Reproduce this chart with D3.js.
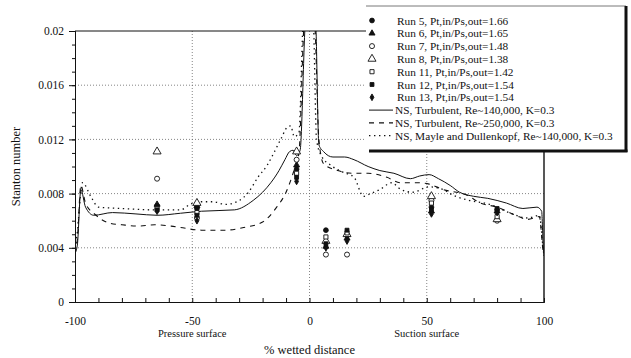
<!DOCTYPE html>
<html>
<head>
<meta charset="utf-8">
<script src="https://cdn.jsdelivr.net/npm/d3@7"></script>
<style>
  body { margin: 0; background: #fff; }
  svg { display: block; font-family: "Liberation Serif", "Times New Roman", serif; }
</style>
</head>
<body>
<svg id="chart" width="631" height="358"></svg>
<script>
// measured stations (% wetted distance)
const runX = [-65, -48, -5.5, 7, 16, 52, 80];

// Stanton number per run, one value per station
const run5 = [0.0071, 0.0069, 0.0098, 0.0053, 0.0049, 0.0070, 0.0068];
const run6 = [0.0072, 0.0071, 0.0101, 0.0041, 0.0047, 0.0067, 0.0067];
const run7 = [0.0091, 0.0062, 0.0105, 0.0035, 0.0035, 0.0075, 0.0060];
const run8 = [0.0111, 0.0073, 0.0111, 0.0045, 0.0050, 0.0078, 0.0061];
const run11 = [0.0069, 0.0066, 0.0095, 0.0048, 0.0051, 0.0073, 0.0063];
const run12 = [0.0068, 0.0064, 0.0092, 0.0043, 0.0053, 0.0068, 0.0069];
const run13 = [0.0067, 0.0060, 0.0089, 0.0040, 0.0045, 0.0065, 0.0066];

const runLabels = [
  'Run 5, Pt,in/Ps,out=1.66', 'Run 6, Pt,in/Ps,out=1.65', 'Run 7, Pt,in/Ps,out=1.48',
  'Run 8, Pt,in/Ps,out=1.38', 'Run 11, Pt,in/Ps,out=1.42', 'Run 12, Pt,in/Ps,out=1.54',
  'Run 13, Pt,in/Ps,out=1.54'
];

// NS predictions [x, St]
const ns140 = [[-100,0.0036],[-99,0.0042],[-97.5,0.0083],[-95.5,0.0070],[-92,0.0064],[-84,0.0066],
  [-74,0.0065],[-65,0.0064],[-55,0.00655],[-46,0.0067],[-32,0.0068],[-24,0.0075],[-20,0.0081],
  [-16.5,0.0088],[-13,0.0097],[-10.5,0.0105],[-8.5,0.0111],[-7,0.0112],[-5.5,0.0108],[-4,0.0112],
  [-1.5,0.021],[2.5,0.021],[4,0.0116],[6,0.0111],[10,0.0107],[15,0.0107],[19,0.0105],[25,0.0100],
  [30,0.0097],[36,0.0095],[43,0.0091],[47,0.0093],[51,0.0094],[55,0.0091],[60,0.0086],[64,0.0081],
  [70,0.0078],[76,0.00765],[84,0.0073],[91,0.0069],[97,0.0070],[99,0.0067],[99.7,0.0040],[100,0.0035]];

const ns250 = [[-100,0.0036],[-99,0.0046],[-97.5,0.0086],[-95.5,0.0073],[-91,0.0064],[-85,0.0058],
  [-80,0.0057],[-73,0.0056],[-66,0.0057],[-59,0.0056],[-55,0.0055],[-46,0.0053],[-36,0.0053],
  [-28,0.0055],[-20,0.0059],[-14,0.0070],[-10,0.0081],[-7,0.0095],[-4.5,0.0110],[-2,0.021],
  [2,0.021],[4,0.0120],[6,0.0102],[12,0.0097],[19,0.0095],[25,0.0095],[33,0.0092],[39,0.0088],
  [46,0.0088],[51,0.0087],[57,0.0083],[67,0.0079],[73,0.0073],[80,0.0070],[88,0.0064],[93,0.0061],
  [98,0.0063],[99.6,0.0038],[100,0.0034]];

const nsMayle = [[-100,0.0036],[-99,0.0052],[-96.8,0.0088],[-93,0.0077],[-90,0.0070],[-80,0.0069],
  [-66,0.0068],[-55,0.0068],[-51,0.0072],[-46,0.0074],[-41,0.0074],[-36,0.0072],[-31,0.0074],
  [-26,0.0081],[-22,0.0092],[-18,0.0101],[-15.5,0.0109],[-12,0.0121],[-9.5,0.0129],[-8,0.0130],
  [-6.5,0.0122],[-4.5,0.0125],[-2.5,0.021],[1.5,0.021],[3,0.0120],[5,0.0108],[9,0.0101],[14,0.0096],
  [19,0.0092],[23,0.0078],[26,0.0080],[30,0.0083],[35,0.0088],[39,0.0083],[44,0.0081],[51,0.0085],
  [57,0.0083],[61,0.0079],[68,0.0075],[77,0.0072],[85,0.0066],[93,0.0062],[98,0.0064],[99.6,0.0040],
  [100,0.0034]];

const lineLabels = [
  'NS, Turbulent, Re~140,000, K=0.3',
  'NS, Turbulent, Re~250,000, K=0.3',
  'NS, Mayle and Dullenkopf, Re~140,000, K=0.3'
];

const xMajor = [-100, -50, 0, 50, 100];
const yMajor = [0, 0.004, 0.008, 0.012, 0.016, 0.02];
const surfaceLabels = [[-50, 'Pressure surface'], [50, 'Suction surface']];

const svg = d3.select('#chart');
const x = d3.scaleLinear().domain([-100, 100]).range([75, 544]);
const y = d3.scaleLinear().domain([0, 0.02]).range([302, 31]);

svg.append('clipPath').attr('id', 'plotclip').append('rect')
  .attr('x', 75).attr('y', 31).attr('width', 469).attr('height', 271);

// grid
const grid = svg.append('g').attr('stroke', '#666').attr('stroke-width', 0.8)
  .attr('stroke-dasharray', '1,2');
yMajor.slice(1, -1).forEach(v => {
  grid.append('line').attr('x1', x(-100)).attr('x2', x(100)).attr('y1', y(v)).attr('y2', y(v));
});
[-50, 0, 50].forEach(v => {
  grid.append('line').attr('x1', x(v)).attr('x2', x(v)).attr('y1', y(0)).attr('y2', y(0.02));
});

// frame top / right
svg.append('line').attr('x1', x(-100)).attr('x2', x(100)).attr('y1', y(0.02)).attr('y2', y(0.02))
  .attr('stroke', '#111');
svg.append('line').attr('x1', x(100)).attr('x2', x(100)).attr('y1', y(0.02)).attr('y2', y(0))
  .attr('stroke', '#111').attr('stroke-width', 1.4);

// axes
const xMinor = svg.append('g').attr('transform', `translate(0,${y(0)})`)
  .call(d3.axisBottom(x).tickValues(d3.range(-100, 101, 10)).tickSize(-4).tickFormat(''));
const xAxis = svg.append('g').attr('transform', `translate(0,${y(0)})`)
  .call(d3.axisBottom(x).tickValues(xMajor).tickSize(0).tickPadding(15).tickFormat(d => String(d)));
const yMinor = svg.append('g').attr('transform', `translate(${x(-100)},0)`)
  .call(d3.axisLeft(y).tickValues(d3.range(0, 0.0205, 0.001)).tickSize(3).tickFormat(''));
const yAxis = svg.append('g').attr('transform', `translate(${x(-100)},0)`)
  .call(d3.axisLeft(y).tickValues(yMajor).tickSize(6).tickPadding(5)
    .tickFormat(d => d === 0 ? '0' : String(+d.toFixed(3))));
[xMinor, xAxis, yMinor, yAxis].forEach(g => {
  g.select('.domain').attr('stroke', '#111');
  g.selectAll('.tick line').attr('stroke', '#111');
  g.selectAll('text').attr('font-family', '"Liberation Serif", serif').attr('font-size', 11.5)
    .attr('fill', '#111');
});

surfaceLabels.forEach(([v, t]) => {
  svg.append('text').attr('x', x(v)).attr('y', 337).attr('text-anchor', 'middle')
    .attr('font-size', 10.5).attr('fill', '#111').text(t);
});
svg.append('text').attr('x', x(0)).attr('y', 354).attr('text-anchor', 'middle')
  .attr('font-size', 12.5).attr('fill', '#111').text('% wetted distance');
svg.append('text').attr('transform', `translate(20,${y(0.01)}) rotate(-90)`)
  .attr('text-anchor', 'middle').attr('font-size', 12.5).attr('fill', '#111').text('Stanton number');

// NS curves
const lineGen = d3.line().x(d => x(d[0])).y(d => y(d[1])).curve(d3.curveMonotoneX);
const lineStyles = [
  { data: ns140, dash: null, w: 1 },
  { data: ns250, dash: '5,5', w: 1.1 },
  { data: nsMayle, dash: '1.4,3.6', w: 1.3 }
];
const plot = svg.append('g').attr('clip-path', 'url(#plotclip)');
lineStyles.forEach(s => {
  plot.append('path').attr('d', lineGen(s.data)).attr('fill', 'none')
    .attr('stroke', '#111').attr('stroke-width', s.w)
    .attr('stroke-dasharray', s.dash);
});

// experimental markers
const runs = [
  { vals: run5, type: d3.symbolCircle, filled: true, size: 18 },
  { vals: run6, type: d3.symbolTriangle, filled: true, size: 16 },
  { vals: run7, type: d3.symbolCircle, filled: false, size: 20 },
  { vals: run8, type: d3.symbolTriangle, filled: false, size: 28 },
  { vals: run11, type: d3.symbolSquare, filled: false, size: 17 },
  { vals: run12, type: d3.symbolSquare, filled: true, size: 15 },
  { vals: run13, type: d3.symbolDiamond, filled: true, size: 13 }
];
function drawSymbol (g, r, cx, cy) {
  g.append('path').attr('d', d3.symbol().type(r.type).size(r.size)())
    .attr('transform', `translate(${cx},${cy})`)
    .attr('fill', r.filled ? '#111' : '#fff').attr('stroke', '#111').attr('stroke-width', 0.9);
}
runs.forEach(r => {
  r.vals.forEach((v, i) => drawSymbol(plot, r, x(runX[i]), y(v)));
});

// legend (no visible left edge in the scan)
const leg = svg.append('g');
leg.append('rect').attr('x', 366).attr('y', 6).attr('width', 260).attr('height', 145)
  .attr('fill', '#fff');
leg.append('line').attr('x1', 366).attr('x2', 626).attr('y1', 6).attr('y2', 6)
  .attr('stroke', '#555').attr('stroke-width', 0.8);
leg.append('line').attr('x1', 626).attr('x2', 626).attr('y1', 6).attr('y2', 152)
  .attr('stroke', '#111').attr('stroke-width', 3);
leg.append('line').attr('x1', 369).attr('x2', 627.5).attr('y1', 151).attr('y2', 151)
  .attr('stroke', '#111').attr('stroke-width', 3);
const rowY = i => 20.5 + i * 12.8;
runs.forEach((r, i) => {
  drawSymbol(leg, r, 372, rowY(i));
  leg.append('text').attr('x', 397).attr('y', rowY(i) + 4).attr('font-size', 11.3)
    .attr('fill', '#111').text(runLabels[i]);
});
lineStyles.forEach((s, j) => {
  const i = runs.length + j;
  leg.append('line').attr('x1', 369).attr('x2', 393).attr('y1', rowY(i)).attr('y2', rowY(i))
    .attr('stroke', '#111').attr('stroke-width', s.w).attr('stroke-dasharray', s.dash);
  leg.append('text').attr('x', 395).attr('y', rowY(i) + 4).attr('font-size', 11.3)
    .attr('fill', '#111').text(lineLabels[j]);
});
</script>
</body>
</html>
